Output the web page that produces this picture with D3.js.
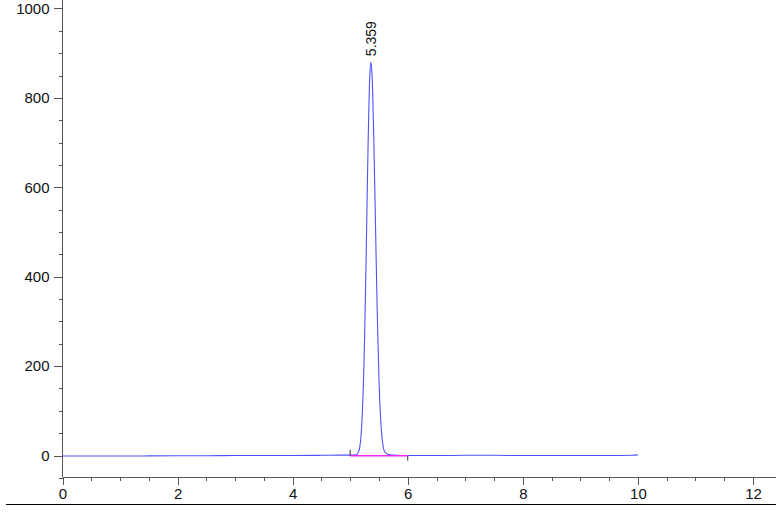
<!DOCTYPE html>
<html>
<head>
<meta charset="utf-8">
<script src="https://cdn.jsdelivr.net/npm/d3@7"></script>
<style>
  html, body { margin: 0; padding: 0; background: #fff; }
  svg { display: block; font-family: "Liberation Sans", Arial, sans-serif; }
</style>
</head>
<body>
<svg id="chart" width="776" height="515"></svg>
<script>
// Retention time (min) and detector signal
const times = [0, 0.5, 1, 1.5, 2, 2.5, 3, 3.5, 4, 4.5, 4.8, 5.0, 5.1, 5.15, 5.2, 5.25, 5.28, 5.31, 5.34, 5.359,
               5.38, 5.41, 5.44, 5.47, 5.5, 5.55, 5.6, 5.65, 5.7, 5.8, 6.0, 6.5, 7, 7.5, 8, 8.5, 9, 9.5, 9.9, 10];
const signal = [-1, -1, -1, -0.8, -0.5, -0.5, 0, 0, 0, 0.5, 1, 1, 1.5, 10, 67, 262, 466, 689, 848, 880,
               849, 710, 513, 320, 172, 44, 8, 3, 1.5, 0.5, 0, 0, 0.5, 0.5, 0, 0, 0, 0, 0.5, 1.5];

// Peak annotation and integration baseline
const peakTimes = [5.359];
const peakLabels = ["5.359"];
const peakValues = [880];
const baselineStart = [5.0, -0.5];
const baselineEnd = [6.0, -0.5];

// Axis ticks
const xMajorTicks = [0, 2, 4, 6, 8, 10, 12];
const xMinorTicks = [0.5, 1, 1.5, 2.5, 3, 3.5, 4.5, 5, 5.5, 6.5, 7, 7.5, 8.5, 9, 9.5, 10.5, 11, 11.5, 12.5];
const yMajorTicks = [0, 200, 400, 600, 800, 1000];
const yMinorTicks = [-50, 50, 100, 150, 250, 300, 350, 450, 500, 550, 650, 700, 750, 850, 900, 950];

const svg = d3.select("#chart");
const W = 776;

const x = d3.scaleLinear().domain([0, 12.4]).range([62.5, 776]);
const y = d3.scaleLinear().domain([-48, 1019]).range([477, 0]);

const axisColor = "#555";
const fontFam = "'Liberation Sans', Arial, sans-serif";

// X axis
const gx = svg.append("g").attr("transform", `translate(0,${y(-48)})`);
gx.call(d3.axisBottom(x).tickValues(xMinorTicks).tickSize(4).tickFormat(""))
  .call(g => g.select(".domain").remove());
gx.selectAll(".tick line").attr("stroke", axisColor);
const gxM = svg.append("g").attr("transform", `translate(0,${y(-48)})`);
gxM.call(d3.axisBottom(x).tickValues(xMajorTicks).tickSize(8).tickPadding(3).tickFormat(d3.format("d")));
gxM.attr("font-size", 15).attr("font-family", fontFam);
gxM.select(".domain").attr("stroke", axisColor).attr("d", `M${x(0)},0H${W}`);
gxM.selectAll(".tick line").attr("stroke", axisColor);
gxM.selectAll(".tick text").style("font-size", "15px").attr("fill", "#111");

// Y axis
const gy = svg.append("g").attr("transform", `translate(${x(0)},0)`);
gy.call(d3.axisLeft(y).tickValues(yMinorTicks.filter(v => y(v) > 0)).tickSize(4).tickFormat(""))
  .call(g => g.select(".domain").remove());
gy.selectAll(".tick line").attr("stroke", axisColor);
const gyM = svg.append("g").attr("transform", `translate(${x(0)},0)`);
gyM.call(d3.axisLeft(y).tickValues(yMajorTicks).tickSize(9).tickPadding(4).tickFormat(d3.format("d")));
gyM.attr("font-size", 15).attr("font-family", fontFam);
gyM.select(".domain").attr("stroke", axisColor).attr("d", `M0,0V${y(-48)}`);
gyM.selectAll(".tick line").attr("stroke", axisColor);
gyM.selectAll(".tick text").style("font-size", "15px").attr("fill", "#111");

svg.selectAll(".domain, .tick line").attr("shape-rendering", "crispEdges");

// Bottom rule
svg.append("line").attr("x1", 6).attr("x2", W).attr("y1", 504.5).attr("y2", 504.5)
  .attr("stroke", "#000").attr("stroke-width", 1);

// Trace
const data = times.map((t, i) => [t, signal[i]]);
const line = d3.line().x(d => x(d[0])).y(d => y(d[1])).curve(d3.curveMonotoneX);
svg.append("path").datum(data).attr("d", line)
  .attr("fill", "none").attr("stroke", "#5050ff").attr("stroke-width", 1.1);

// Integration baseline (drawn on top of the trace)
svg.append("line")
  .attr("x1", x(baselineStart[0])).attr("y1", y(baselineStart[1]))
  .attr("x2", x(baselineEnd[0])).attr("y2", y(baselineEnd[1]))
  .attr("stroke", "#ff22ff").attr("stroke-width", 1.6);
svg.append("line")
  .attr("x1", x(baselineStart[0])).attr("x2", x(baselineStart[0]))
  .attr("y1", y(baselineStart[1]) - 6).attr("y2", y(baselineStart[1]))
  .attr("stroke", "#333").attr("stroke-width", 1);
svg.append("line")
  .attr("x1", x(baselineEnd[0])).attr("x2", x(baselineEnd[0]))
  .attr("y1", y(baselineEnd[1])).attr("y2", y(baselineEnd[1]) + 5)
  .attr("stroke", "#333").attr("stroke-width", 1);

// Peak label
peakTimes.forEach((t, i) => {
  const px = x(t) + 5, py = y(peakValues[i]) - 6;
  svg.append("text")
    .attr("transform", `translate(${px},${py}) rotate(-90)`)
    .attr("text-anchor", "start")
    .style("font-size", "14px")
    .attr("font-family", fontFam)
    .attr("fill", "#111")
    .text(peakLabels[i]);
});
</script>
</body>
</html>
